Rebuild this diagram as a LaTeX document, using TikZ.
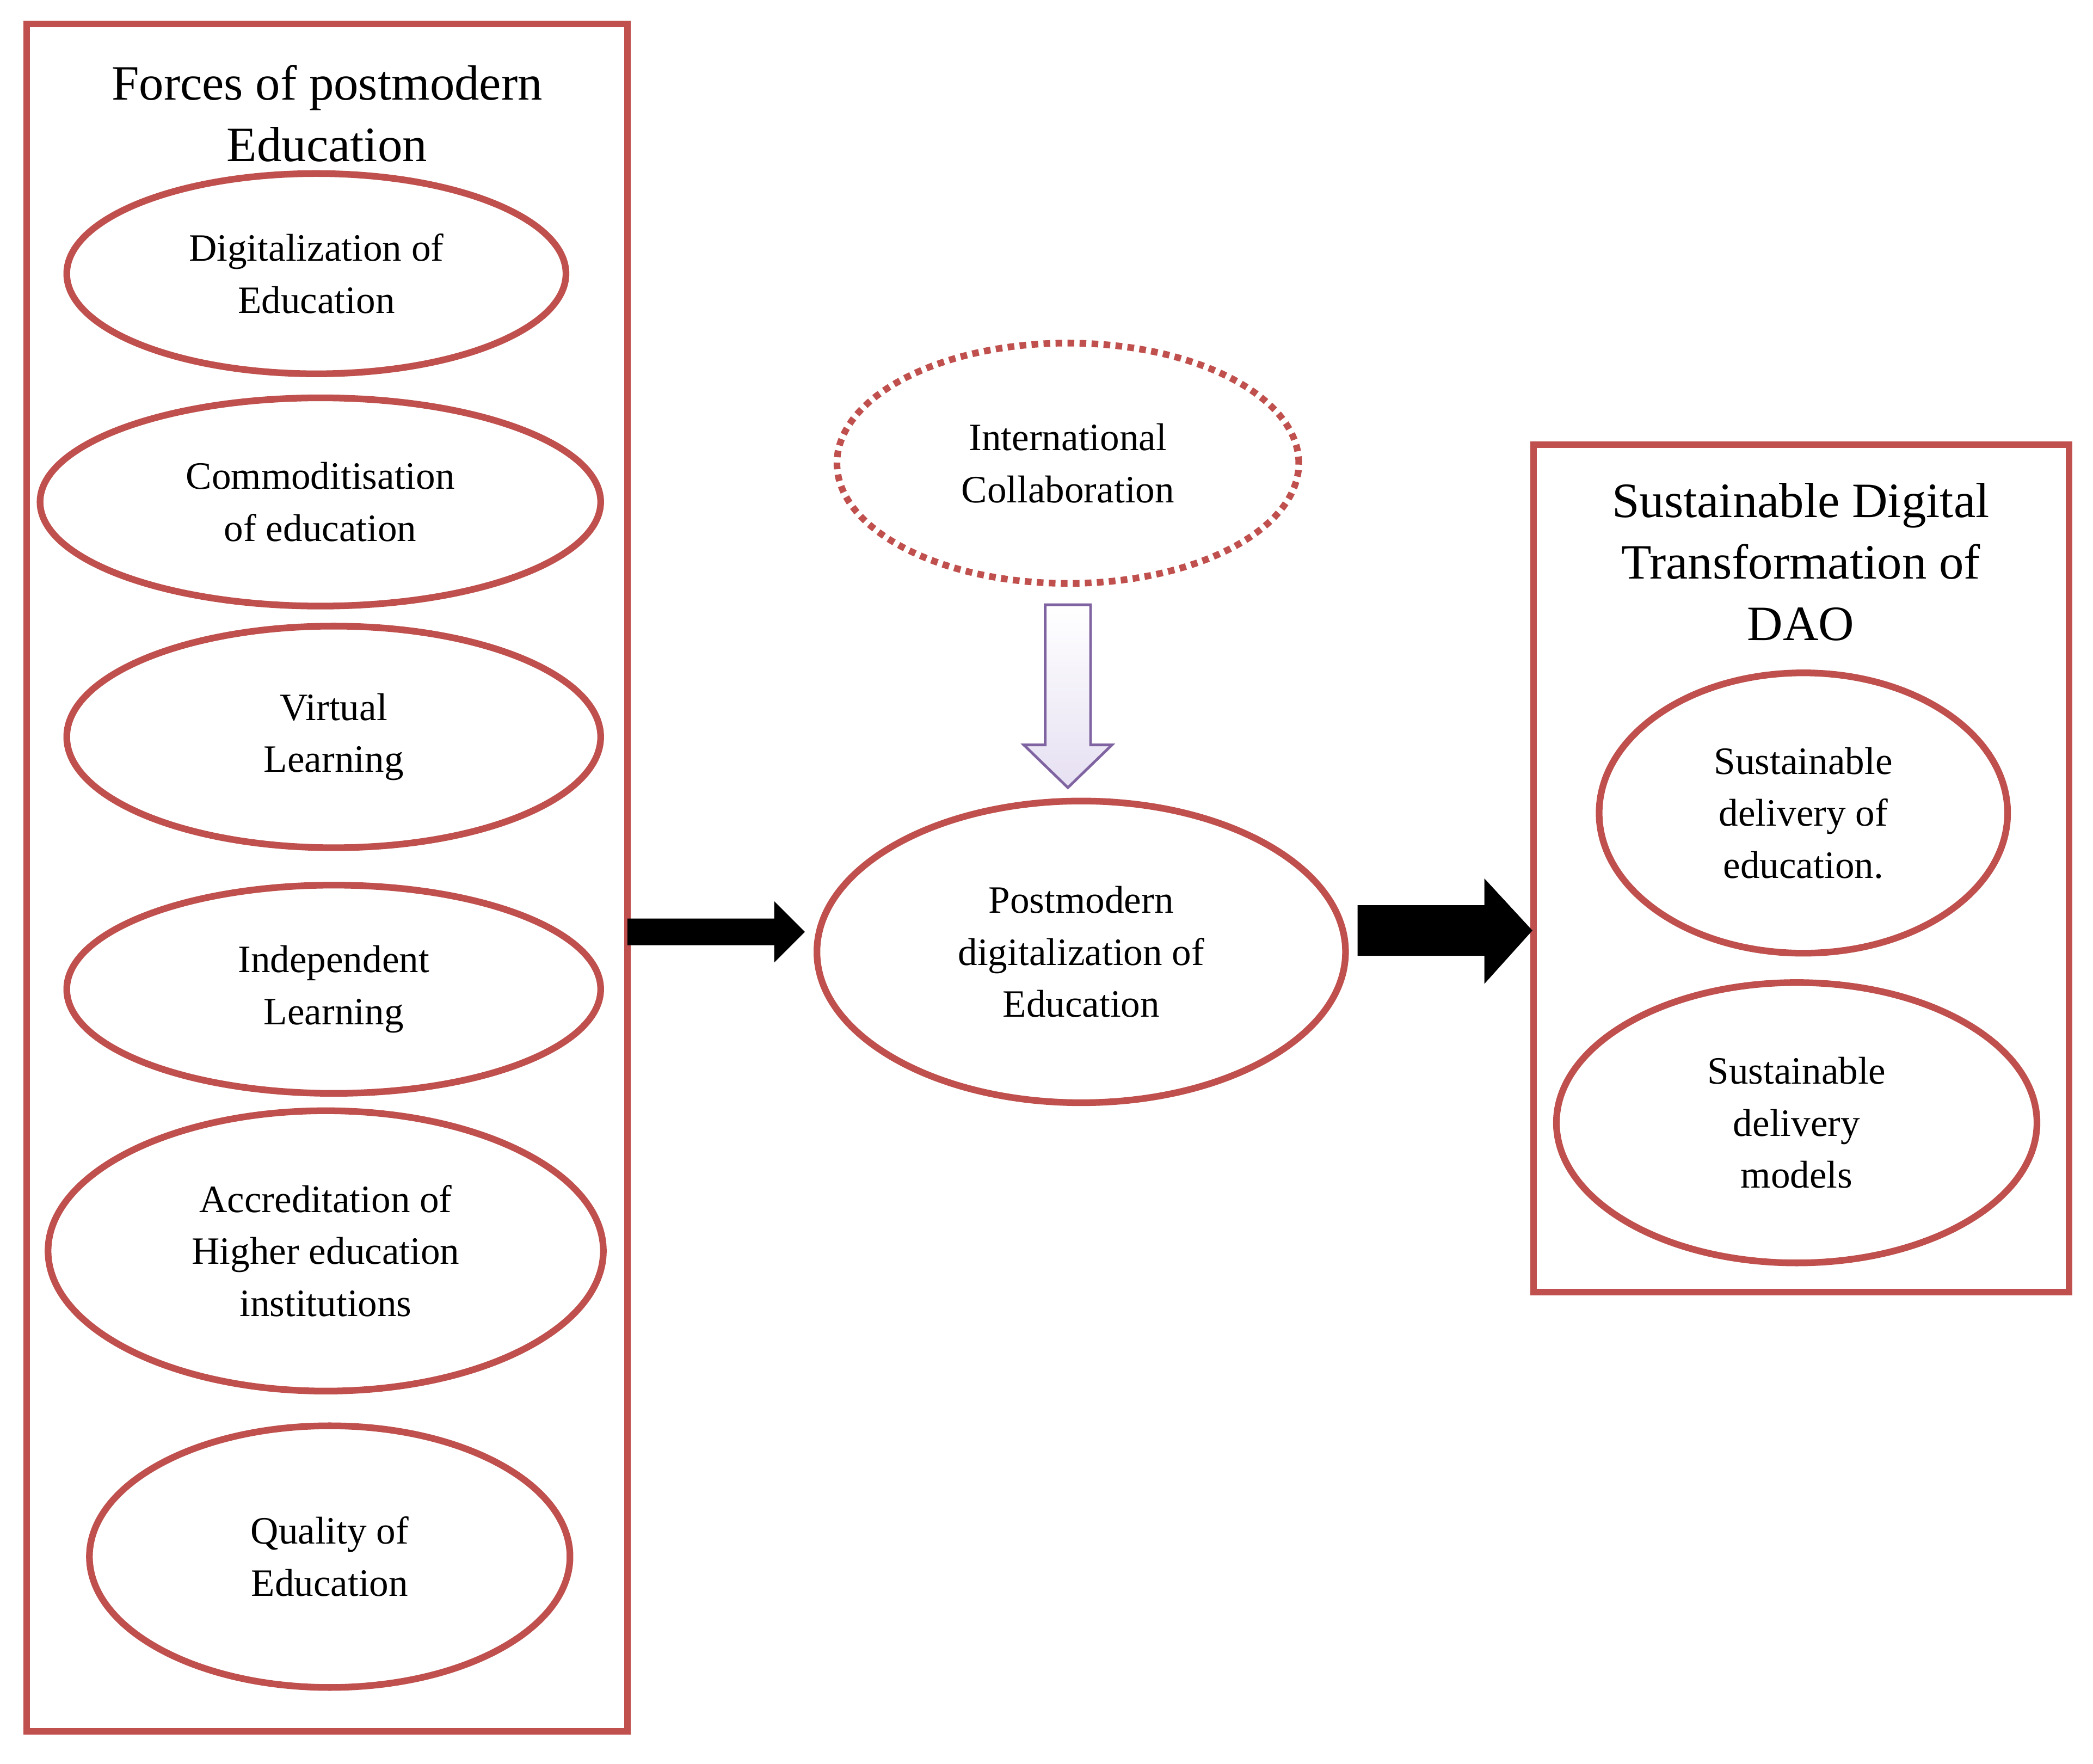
\documentclass[tikz,border=0pt]{standalone}
\usepackage{fontspec}
\setmainfont{Liberation Serif}
\usetikzlibrary{shapes.geometric}
\definecolor{rd}{HTML}{C0504D}
\definecolor{pu}{HTML}{8064A2}
\definecolor{lpu}{HTML}{E6E0F2}
\begin{document}
\begin{tikzpicture}[x=1pt,y=-1pt,
 el/.style={ellipse,draw=rd,line width=5pt,align=center,inner sep=0pt,font=\fontsize{29}{39}\selectfont},
 box/.style={draw=rd,line width=5pt},
 ttl/.style={align=center,font=\fontsize{37}{46}\selectfont}]
\useasboundingbox (0,0) rectangle (1568,1321);
\fill[white] (0,0) rectangle (1568,1321);
\draw[box] (20,18) rectangle (470,1297);
\node[ttl] (t1) at (245,85) {Forces of postmodern\\Education};
\node[el,minimum width=374,minimum height=150] (e1) at (237,205) {Digitalization of\\Education};
\node[el,minimum width=420,minimum height=156] (e2) at (240,376) {Commoditisation\\of education};
\node[el,minimum width=400,minimum height=166] (e3) at (250,552) {Virtual\\Learning};
\node[el,minimum width=400,minimum height=156] (e4) at (250,741) {Independent\\Learning};
\node[el,minimum width=416,minimum height=210] (e5) at (244,937) {Accreditation of\\Higher education\\institutions};
\node[el,minimum width=360,minimum height=196] (e6) at (247,1166) {Quality of\\Education};
\node[el,dash pattern=on 5pt off 4pt,minimum width=346,minimum height=180] (ic) at (800,347) {International\\Collaboration};
\node[el,minimum width=396,minimum height=226] (pm) at (810,713) {Postmodern\\digitalization of\\Education};
\draw[box] (1149,333) rectangle (1550,968);
\node[ttl] (t2) at (1349,421) {Sustainable Digital\\Transformation of\\DAO};
\node[el,minimum width=306,minimum height=210] (s1) at (1351,609) {Sustainable\\delivery of\\education.};
\node[el,minimum width=360,minimum height=210] (s2) at (1346,841) {Sustainable\\delivery\\models};
% purple block arrow
\draw[pu,line width=2pt,left color=white,right color=lpu,shading angle=0]
 (783,453) -- (817,453) -- (817,558) -- (833,558) -- (800,590) -- (767,558) -- (783,558) -- cycle;
% black block arrows
\fill[black] (470,688) -- (580,688) -- (580,675) -- (603,698) -- (580,721) -- (580,708) -- (470,708) -- cycle;
\fill[black] (1017,678) -- (1112,678) -- (1112,658) -- (1148,697) -- (1112,737) -- (1112,716) -- (1017,716) -- cycle;
\end{tikzpicture}
\end{document}
